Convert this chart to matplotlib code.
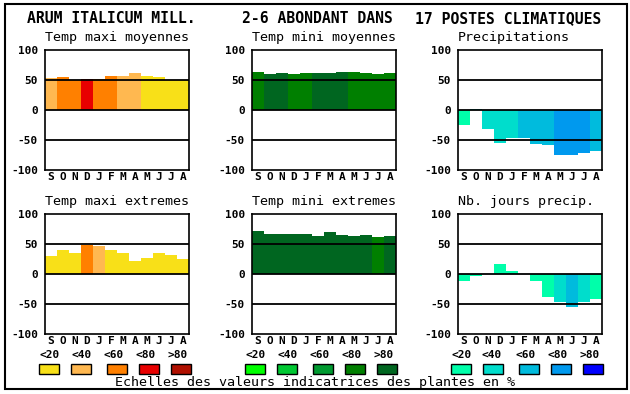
import matplotlib
matplotlib.use("Agg")
import matplotlib.pyplot as plt
from matplotlib.patches import Rectangle

W, H = 630, 394
plt.rcParams['font.family'] = ['DejaVu Sans Mono']

months = ['S', 'O', 'N', 'D', 'J', 'F', 'M', 'A', 'M', 'J', 'J', 'A']
legend_labels = ['<20', '<40', '<60', '<80', '>80']

warm_colors = ['#F8E018', '#FFB850', '#FF8000', '#E80000', '#B01000']
green_colors = ['#00FF00', '#00C832', '#009A30', '#007F00', '#006620']
blue_colors = ['#00FFAA', '#00DDCC', '#00BBDD', '#0099EE', '#0000FF']

tmax_moy = [53, 55, 50, 52, 52, 57, 57, 62, 57, 55, 50, 50]
tmax_moy_cls = [1, 2, 2, 3, 2, 2, 1, 1, 0, 0, 0, 0]
tmin_moy = [64, 60.5, 62, 60.5, 62, 62, 62, 64, 64, 62, 60.5, 62]
tmin_moy_cls = [3, 4, 4, 3, 3, 4, 4, 4, 3, 3, 3, 3]
precip = [-25, 2, -31, -55, -47, -46, -56, -58, -75, -75, -72, -68]
precip_cls = [0, 1, 1, 1, 1, 2, 2, 2, 3, 3, 3, 2]
tmax_ext = [30, 40, 35, 49, 47, 40, 35, 22, 27, 35, 32, 25]
tmax_ext_cls = [0, 0, 0, 2, 1, 0, 0, 0, 0, 0, 0, 0]
tmin_ext = [72, 67, 66, 66, 67, 63, 70, 65, 63, 65, 62, 63]
tmin_ext_cls = [4, 4, 4, 4, 4, 4, 4, 4, 4, 4, 3, 4]
njours = [-12, -4, 0, 17, 5, 0, -12, -38, -47, -55, -46, -41]
njours_cls = [0, 0, 0, 0, 0, 0, 0, 0, 1, 2, 1, 0]

panels = [
    ("Temp maxi moyennes", tmax_moy, tmax_moy_cls, warm_colors, 45, 50),
    ("Temp mini moyennes", tmin_moy, tmin_moy_cls, green_colors, 252, 50),
    ("Precipitations", precip, precip_cls, blue_colors, 458, 50),
    ("Temp maxi extremes", tmax_ext, tmax_ext_cls, warm_colors, 45, 214),
    ("Temp mini extremes", tmin_ext, tmin_ext_cls, green_colors, 252, 214),
    ("Nb. jours precip.", njours, njours_cls, blue_colors, 458, 214),
]

fig = plt.figure(figsize=(W / 100, H / 100), dpi=100)
fig.patch.set_facecolor('white')


def fx(x):
    return x / W


def fy(y):
    return 1 - y / H


AW, AH = 144, 120
for title, vals, cls, pal, x0, y0 in panels:
    ax = fig.add_axes([fx(x0), fy(y0 + AH), AW / W, AH / H])
    ax.bar(range(12), vals, width=1.0, color=[pal[c] for c in cls],
           linewidth=0, zorder=2)
    for yv in (50, 0, -50):
        ax.axhline(yv, color='black', lw=1.3, zorder=3)
    ax.set_xlim(-0.5, 11.5)
    ax.set_ylim(-100, 100)
    ax.set_yticks([-100, -50, 0, 50, 100])
    ax.set_yticklabels(['-100', '-50', '0', '50', '100'],
                       fontweight='bold', fontsize=8)
    ax.set_xticks(range(12))
    ax.set_xticklabels(months, fontweight='bold', fontsize=8)
    ax.tick_params(axis='x', length=0, pad=1.5)
    ax.tick_params(axis='y', length=0, pad=5)
    for s in ax.spines.values():
        s.set_linewidth(1.2)
    fig.text(fx(x0), fy(y0 - 12), title, fontsize=9.6,
             ha='left', va='center')

# legends
legend_specs = [
    (warm_colors, [39, 71, 107, 139, 171], [39, 71, 103, 135, 167]),
    (green_colors, [245, 277, 313, 345, 377], [245, 277, 309, 341, 373]),
    (blue_colors, [451, 483, 519, 551, 583], [451, 482, 515, 547, 579]),
]
for pal, bx, lx in legend_specs:
    for i in range(5):
        fig.patches.append(Rectangle((fx(bx[i]), fy(374)), 20 / W, 10 / H,
                                     transform=fig.transFigure,
                                     facecolor=pal[i], edgecolor='black',
                                     lw=1.0))
        fig.text(fx(lx[i]), fy(355), legend_labels[i], fontsize=8,
                 fontweight='bold', ha='left', va='center')

fig.text(fx(115), fy(382.5),
         "Echelles des valeurs indicatrices des plantes en %",
         fontsize=9.6, ha='left', va='center')

fig.text(fx(26.7), fy(18.5), "ARUM ITALICUM MILL.", fontsize=10.6,
         fontweight='bold', ha='left', va='center')
fig.text(fx(242.3), fy(18.5), "2-6 ABONDANT DANS", fontsize=10.6,
         fontweight='bold', ha='left', va='center')
fig.text(fx(415), fy(18.5), "17 POSTES CLIMATIQUES", fontsize=10.6,
         fontweight='bold', ha='left', va='center')

fig.patches.append(Rectangle((fx(5), fy(389)), 622 / W, 385 / H,
                             transform=fig.transFigure, fill=False,
                             edgecolor='black', lw=1.5))

fig.savefig("out.png", dpi=100, facecolor='white')
